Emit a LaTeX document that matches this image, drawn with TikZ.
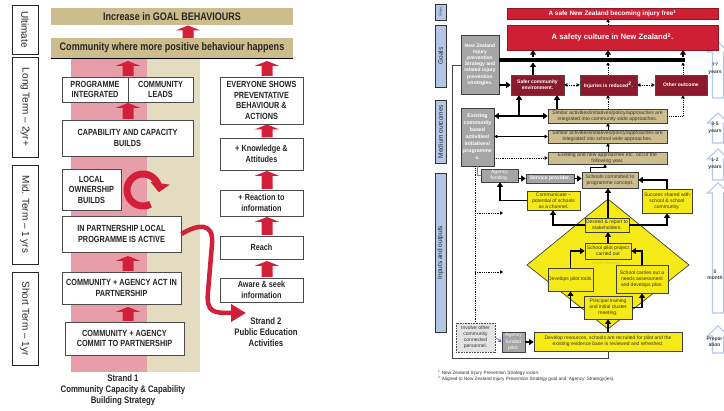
\documentclass[tikz,border=0pt]{standalone}
\usepackage{fontspec}
\setmainfont{Liberation Sans}
\newfontfamily\nar[FakeStretch=0.82]{Liberation Sans}
\usetikzlibrary{arrows.meta}

\definecolor{barTan}{HTML}{CDBC8C}
\definecolor{colPink}{HTML}{E89EA8}
\definecolor{colTan}{HTML}{E4DCC0}
\definecolor{arrRed}{HTML}{D2203A}
\definecolor{lmRed}{HTML}{CE1F35}
\definecolor{lmDark}{HTML}{8C1A2C}
\definecolor{lmGray}{HTML}{A5A5A5}
\definecolor{lmTan}{HTML}{CDBD8E}
\definecolor{lmYellow}{HTML}{F6EA16}
\definecolor{labBlue}{HTML}{B3C6E5}
\definecolor{yrBlue}{HTML}{B5C9E8}

\newcommand\fsz[2]{\fontsize{#1}{#2}\selectfont}
% box given by its corners: name, style, x1, y1, x2, y2, text
\newcommand\bx[7]{\node[#2, minimum width={(#5-#3)*1pt}, minimum height={(#6-#4)*1pt}] (#1) at ({(#3+#5)/2},{(#4+#6)/2}) {#7};}
% red block arrow pointing up: centre x, tip y, base y
\newcommand\upblock[3]{\fill[arrRed] ({#1-5.5},#3) -- ({#1-5.5},{#2+5}) -- ({#1-12.5},{#2+5}) -- (#1,#2) -- ({#1+12.5},{#2+5}) -- ({#1+5.5},{#2+5}) -- ({#1+5.5},#3) -- cycle;}
% outlined time-span arrow: centre x, tip y, base y
\newcommand\yrarrow[3]{\draw[yrBlue, fill=white, line width=1.1pt] ({#1-5.5},#3) -- ({#1-5.5},{#2+10}) -- ({#1-10.5},{#2+10}) -- (#1,#2) -- ({#1+10.5},{#2+10}) -- ({#1+5.5},{#2+10}) -- ({#1+5.5},#3) -- cycle;}

\tikzset{
  rowlab/.style={draw=black!85, line width=0.9pt, fill=white, inner sep=0pt, font=\fsz{10}{12}, text=black!85},
  hdr/.style={fill=barTan, inner sep=0pt, font=\nar\bfseries\fsz{11}{13}, text=black!85},
  lbox/.style={draw=black!70, line width=0.9pt, fill=white, inner sep=1pt, align=center, font=\nar\bfseries\fsz{8.9}{10.5}, text=black!85},
  strand/.style={align=center, font=\nar\bfseries\fsz{9.5}{11}, text=black!85},
  rlab/.style={draw=black!80, line width=0.7pt, fill=labBlue, inner sep=0pt, font=\fsz{6.5}{7}, text=black!85},
  redbox/.style={fill=lmRed, draw=lmRed!70!black, line width=0.5pt, text=white, inner sep=0pt, font=\bfseries},
  darkbox/.style={fill=lmDark, draw=black!70, line width=0.6pt, text=white, inner sep=0pt, align=center, font=\bfseries\fsz{5}{6.3}},
  graybox/.style={fill=lmGray, draw=black!75, line width=0.7pt, text=white, inner sep=0pt, align=center, font=\bfseries\fsz{5}{6.2}},
  tanbox/.style={fill=lmTan, draw=black!75, line width=0.7pt, text=black!80, inner sep=0pt, align=center, font=\fsz{5.1}{5.8}},
  ylwbox/.style={fill=lmYellow, draw=black!75, line width=0.7pt, text=black!80, inner sep=0pt, align=center, font=\fsz{5}{6}},
  thk/.style={draw=black, line width=1.8pt, -{Triangle[width=6pt,length=4.5pt]}},
  thkboth/.style={draw=black, line width=1.8pt, {Triangle[width=6pt,length=4.5pt]}-{Triangle[width=6pt,length=4.5pt]}},
  thn/.style={draw=black, line width=0.6pt, -{Triangle[width=3.5pt,length=3pt]}},
  thnboth/.style={draw=black, line width=0.6pt, {Triangle[width=3.5pt,length=3pt]}-{Triangle[width=3.5pt,length=3pt]}},
  dotline/.style={draw=black, line width=0.9pt, dash pattern=on 0.9pt off 0.9pt, -{Triangle[width=3.5pt,length=3pt]}},
  dotboth/.style={draw=black, line width=0.9pt, dash pattern=on 0.9pt off 0.9pt, {Triangle[width=3.5pt,length=3pt]}-{Triangle[width=3.5pt,length=3pt]}},
  yrs/.style={font=\bfseries\fsz{5}{6.5}, text=black!75, align=center, inner sep=0pt},
}

\begin{document}
\begin{tikzpicture}[x=1pt,y=-1pt]
\useasboundingbox (0,0) rectangle (724,411);
\clip (0,0) rectangle (724,411);
\fill[white] (0,0) rectangle (724,411);

%================ Strand model (left) ================
% time-frame labels
\node[rowlab, rotate=-90, minimum width=49pt, minimum height=26pt] (ult) at (25,29.5) {Ultimate};
\node[rowlab, rotate=-90, minimum width=100pt, minimum height=26pt] (ltm) at (25,107) {Long Term – 2yr+};
\node[rowlab, rotate=-90, minimum width=99pt, minimum height=26pt] (mtm) at (25,214.5) {Mid. Term – 1 yrs};
\node[rowlab, rotate=-90, minimum width=93pt, minimum height=26pt] (stm) at (25,318.5) {Short Term – 1yr};

% strand 1 background columns
\fill[colPink] (71,58) rectangle (147,372);
\fill[colTan] (147,58) rectangle (200,372);

% outcome bars
\bx{goal}{hdr}{51}{8}{293}{25}{Increase in GOAL BEHAVIOURS}
\bx{comm}{hdr}{51}{38}{293}{58}{Community where more positive behaviour happens}
\draw[line width=0.9pt] (comm.south west) -- (comm.south east);

% block arrows
\upblock{188}{25.5}{38}
\upblock{128}{61}{76}
\upblock{128}{103}{119}
\upblock{128}{256}{271}
\upblock{128}{307}{321}
\upblock{267}{61}{76}
\upblock{267}{124.5}{137.5}
\upblock{267}{171}{189}
\upblock{267}{217}{235}
\upblock{267}{261}{277}

% strand 1 boxes
\bx{pint}{lbox}{62}{77}{128}{102}{PROGRAMME\\INTEGRATED}
\bx{cled}{lbox}{128}{77}{193}{102}{COMMUNITY\\LEADS}
\bx{capb}{lbox}{62}{120}{193}{156}{CAPABILITY AND CAPACITY\\BUILDS}
\bx{lown}{lbox}{62}{169}{121}{210}{LOCAL\\OWNERSHIP\\BUILDS}
\bx{part}{lbox}{62}{216}{181}{252}{IN PARTNERSHIP LOCAL\\PROGRAMME IS ACTIVE}
\bx{act}{lbox}{62}{272}{181}{304}{COMMUNITY + AGENCY ACT IN\\PARTNERSHIP}
\bx{comit}{lbox}{65}{322}{184}{355}{COMMUNITY + AGENCY\\COMMIT TO PARTNERSHIP}

% strand 2 boxes
\bx{evr}{lbox}{220}{77}{303}{124}{EVERYONE SHOWS\\PREVENTATIVE\\BEHAVIOUR \&\\ACTIONS}
\bx{know}{lbox}{220}{138}{303}{170}{+ Knowledge \&\\Attitudes}
\bx{react}{lbox}{220}{190}{303}{216}{+ Reaction to\\information}
\bx{reach}{lbox}{220}{236}{303}{259}{Reach}
\bx{aware}{lbox}{220}{278}{303}{302}{Aware \& seek\\information}

% cycle arrow
\coordinate (ring) at (143,190);
\draw[arrRed, line width=7pt, -{Triangle[width=19pt,length=9pt]}] ([shift={(62:16)}]ring) arc[start angle=62, end angle=368, radius=16];

% link from strand 1 to strand 2
\coordinate (s2tip) at (246,313);
\draw[arrRed, line width=4.5pt, -{Triangle[width=17pt,length=15pt]}] (part.east) .. controls (198,224) and (214,222) .. (212,244) -- (208,292) .. controls (206,313) and (214,313) .. (s2tip);

% strand captions
\node[strand] (s1) at (123,390) {Strand 1\\Community Capacity \& Capability\\Building Strategy};
\node[strand] (s2) at (266,332) {Strand 2\\Public Education\\Activities};

%================ Logic model (right) ================
% guide columns
\coordinate (c452) at (452,0);
\coordinate (c475) at (475,0);
\coordinate (c477) at (477,0);
\coordinate (c500) at (500,0);
\coordinate (c519) at (519,0);
\coordinate (c533) at (533,0);
\coordinate (c553) at (553,0);
\coordinate (c557) at (557,0);
\coordinate (c590) at (590,0);
\coordinate (c605) at (605,0);
\coordinate (c608) at (608,0);
\coordinate (c683) at (683,0);
\coordinate (barL) at (499,60);
\coordinate (barR) at (685,60);
\coordinate (barB) at (0,62.5);
\coordinate (barT) at (0,57.5);

% level labels
\node[rlab, rotate=90, minimum width=16pt, minimum height=11pt, font=\fsz{3.2}{4}] (vis) at (440.5,12) {Vision};
\node[rlab, rotate=90, minimum width=62pt, minimum height=11pt] (gls) at (440.5,56) {Goals};
\node[rlab, rotate=90, minimum width=63pt, minimum height=11pt] (mdo) at (440.5,131.5) {Medium outcomes};
\node[rlab, rotate=90, minimum width=159pt, minimum height=11pt] (ino) at (440.5,252.5) {Inputs and outputs};

% time-span arrows
\yrarrow{718}{42}{98}
\yrarrow{718}{113}{143}
\yrarrow{718}{149}{180}
\yrarrow{718}{183}{313}
\yrarrow{718}{326}{353}
\node[yrs] (y1) at (715,69) {??\\years};
\node[yrs] (y2) at (715,128) {3-5\\years};
\node[yrs] (y3) at (715,164) {1-2\\years};
\node[yrs] (y4) at (715,275) {5\\month};
\node[yrs] (y5) at (714.5,342) {Prepar\\ation};

% goals
\bx{safe}{redbox, font=\bfseries\fsz{6.4}{7}}{507}{8}{718}{19}{A safe New Zealand becoming injury free\textsuperscript{1}}
\bx{cult}{redbox, font=\bfseries\fsz{7.7}{9}}{507}{25}{718}{50}{A safety culture in New Zealand\textsuperscript{2}.}
\bx{nzs}{graybox}{461}{35}{499}{94}{New Zealand\\Injury\\prevention\\Strategy and\\related injury\\prevention\\strategies.}
\bx{safer}{darkbox}{511}{75}{564}{95}{Safer community\\environment.}
\bx{injr}{darkbox}{580}{75}{637}{95}{Injuries is reduced\textsuperscript{2}.}
\bx{oth}{darkbox}{655}{75}{707}{95}{Other outcome}

% medium outcomes
\bx{exist}{graybox, font=\bfseries\fsz{5.2}{7}}{461}{108}{494}{166}{Existing\\community\\based\\activities/\\initiatives/\\programme\\s.}
\bx{tan1}{tanbox}{548}{109}{667}{123}{Similar activities/initiatives/policy/approaches are\\integrated into community wide approaches.}
\bx{tan2}{tanbox}{548}{130}{667}{143}{Similar activities/initiatives/policy/approaches are\\integrated into school wide approaches.}
\bx{tan3}{tanbox}{548}{152}{667}{164}{Existing and new approaches etc. occur the\\following year.}

% inputs and outputs
\fill[lmYellow, draw=black!75, line width=0.7pt] (608,199) -- (689,265) -- (608,329) -- (527,265) -- cycle;
\bx{agf}{graybox, font=\fsz{5}{6}}{481}{169}{518}{182}{Agency\\funding.}
\bx{svc}{graybox}{526}{174}{574}{183}{Service provider.}
\bx{sch}{tanbox}{582}{172}{638}{188}{Schools committed to\\programme concept.}
\bx{comu}{ylwbox}{527}{191}{580}{210}{Communicate –\\potential of schools\\as a channel.}
\bx{succ}{ylwbox}{642}{189}{692}{213}{Success shared with\\school \& school\\community.}
\bx{desr}{ylwbox}{585}{218}{629}{232}{Desired \& report to\\stakeholders.}
\bx{pilot}{ylwbox}{585}{243}{631}{259}{School pilot project\\carried out}
\node[font=\fsz{3.6}{4}, text=lmYellow!55!gray] (safj) at (606,263.5) {SAFER Journeys};
\bx{dev}{ylwbox}{549}{268}{592}{291}{Develops pilot tools.}
\bx{need}{ylwbox}{616}{265}{668}{293}{School carries out a\\needs assessment\\and develops plan.}
\bx{prin}{ylwbox}{584}{296}{632}{319}{Principal training\\and initial cluster\\meeting.}
\bx{res}{ylwbox}{534}{332}{682}{351}{Develop resources, schools are recruited for pilot and the\\existing evidence base is reviewed and refreshed.}
\bx{invl}{draw=black!70, fill=gray!22, dash pattern=on 0.8pt off 0.8pt, line width=0.8pt, inner sep=0pt, align=center, font=\fsz{5}{6}, text=black!80}{456}{323}{495}{352}{Involve other\\community\\connected\\personnel.}
\bx{afp}{graybox, font=\fsz{5}{6.2}}{502}{332}{525}{352}{Agency\\funded\\pilot.}

% goal connectors
\draw[line width=4.5pt] (barL) -- (barR);
\draw[thk] (safer.north -| c533) -- (barB -| c533);
\draw[thk] (barT -| c533) -- (cult.south -| c533);
\draw[thk] (barT -| c608) -- (cult.south -| c608);
\draw[thk] (barT -| c683) -- (cult.south -| c683);
\draw[dotline] (injr.north -| c608) -- (barB -| c608);
\draw[dotline] (oth.north -| c683) -- (barB -| c683);
\draw[dotline] (cult.north -| c608) -- (safe.south -| c608);
\draw[thk] (nzs.east |- safer.west) -- (safer.west);
\draw[dotboth] (safer.east) -- (injr.west);
\draw[dotboth] (injr.east) -- (oth.west);

% medium outcome connectors
\draw[thkboth] (exist.east |- tan1.west) -- (tan1.west);
\draw[thk] (c519 |- tan1.west) -- (safer.south -| c519);
\draw[thk] (tan1.north -| c557) -- (safer.south -| c557);
\draw[dotline] (tan1.north -| c608) -- (injr.south -| c608);
\draw[dotline] (tan1.east) -| (oth.south -| c683);
\draw[thnboth] (exist.east |- tan2.west) -- (tan2.west);
\draw[dotline] (exist.east |- tan3.west) -- (tan3.west);
\draw[thn] (tan2.north -| c608) -- (tan1.south -| c608);
\draw[thn] (tan3.north -| c608) -- (tan2.south -| c608);

% input and output connectors
\coordinate (d1) at (503,213);
\coordinate (d2) at (503,272);
\coordinate (k167) at (605,168);
\draw[blue!55, line width=0.7pt] (exist.south -| c477) |- (agf.west);
\draw[black, line width=0.9pt, dash pattern=on 0.9pt off 0.9pt] (exist.south -| c475) -- (invl.north -| c475);
\draw[dotline] (d1 -| c475) -- (d1);
\draw[dotline] (d2 -| c475) -- (d2);
\draw[thk] (agf.east |- svc.west) -- (svc.west);
\draw[thk] (svc.east) -- (svc.east -| sch.west);
\draw[thn, line width=1pt] (sch.north -| c590) |- (k167) -- (tan3.south -| k167);
\draw[thk] (desr.north -| c608) -- (sch.south -| c608);
\draw[thk] (succ.north) |- (sch.east);
\draw[thk] (desr.east) -| (succ.south);
\draw[thk] (desr.west) -| (comu.south -| c553);
\draw[thk] (comu.west) -| (agf.south -| c500);
\draw[thk] (pilot.north -| c608) -- (desr.south -| c608);
\draw[thk] (dev.north) |- (pilot.west);
\draw[thk] (need.north) |- (pilot.east);
\draw[thk] (prin.west) -| (dev.south);
\draw[thk] (prin.east) -| (need.south);
\draw[thk] (res.north -| c608) -- (prin.south -| c608);
\draw[blue!60, line width=0.7pt, -{Triangle[width=3.5pt,length=3pt]}] (invl.east) -- (afp.west);
\draw[thk] (afp.east) -- (res.west |- afp.east);
\coordinate (loopA) at (452,358);
\coordinate (loopB) at (452,65);
\draw[black!75, line width=0.8pt] (res.south -| c608) |- (loopA) |- (nzs.west |- loopB);

% footnotes
\node[anchor=west, align=left, font=\fsz{4.7}{6.5}, text=black!80, inner sep=0pt] (fn) at (438,376) {\textsuperscript{1} New Zealand Injury Prevention Strategy vision.\\\textsuperscript{2} Aligned to New Zealand Injury Prevention Strategy goal and ‘Agency’ Strategy(ies).};
\end{tikzpicture}
\end{document}
